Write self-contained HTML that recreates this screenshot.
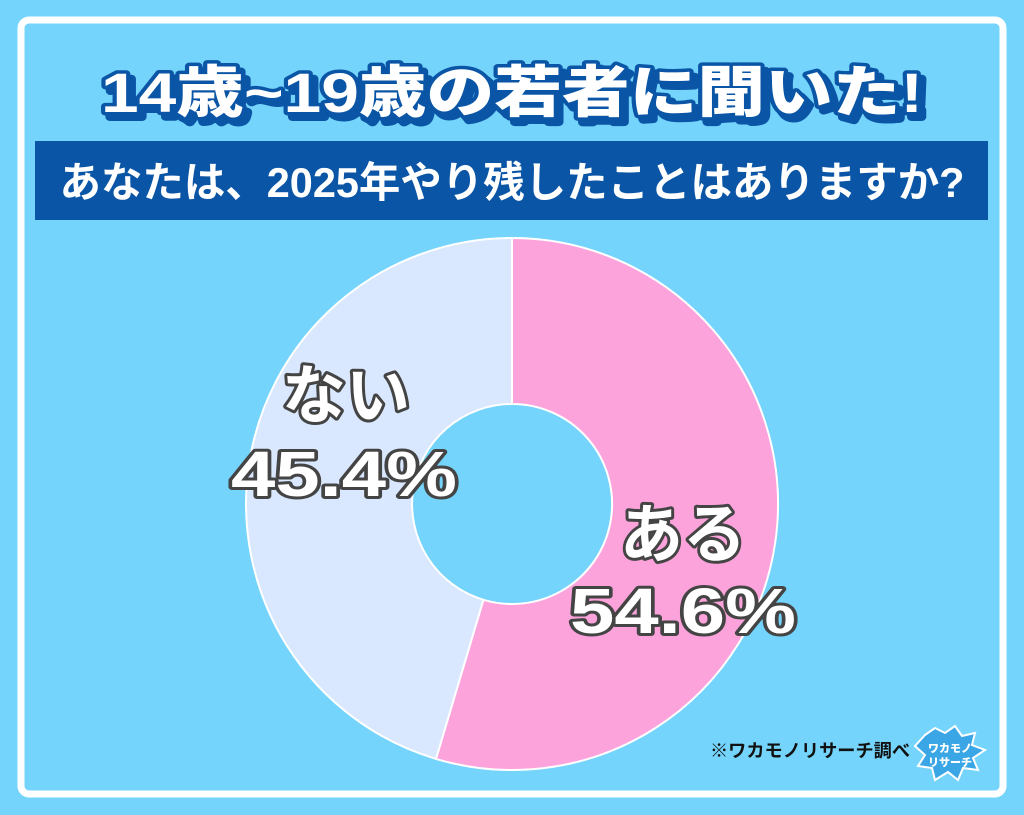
<!DOCTYPE html>
<html><head><meta charset="utf-8"><style>
body{margin:0;width:1024px;height:815px;background:#74d4fb;overflow:hidden}
svg{display:block}
</style></head><body>
<svg width="1024" height="815" viewBox="0 0 1024 815" xmlns="http://www.w3.org/2000/svg">
<rect x="0" y="0" width="1024" height="815" fill="#74d4fb"/>
<rect x="21" y="20" width="982" height="774" rx="8" fill="#74d4fb" stroke="#fff" stroke-width="7"/>
<g font-family="'Liberation Sans','Noto Sans CJK JP',sans-serif" font-weight="900" font-size="56" text-anchor="middle">
<text x="517" y="117" textLength="822" lengthAdjust="spacingAndGlyphs" fill="#0a55a5" stroke="#0a55a5" stroke-width="8" stroke-linejoin="round">14歳~19歳の若者に聞いた!</text>
<text x="512" y="112" textLength="822" lengthAdjust="spacingAndGlyphs" fill="#fff" stroke="#0a55a5" stroke-width="7" stroke-linejoin="round" paint-order="stroke">14歳~19歳の若者に聞いた!</text>
</g>
<rect x="35" y="141" width="953" height="79" fill="#0a55a5"/>
<text x="512" y="197" textLength="905" lengthAdjust="spacingAndGlyphs" fill="#fff" font-family="'Liberation Sans','Noto Sans CJK JP',sans-serif" font-weight="700" font-size="42" text-anchor="middle">あなたは、2025年やり残したことはありますか?</text>
<path d="M512 238 A266 266 0 1 1 436 758.9 L483.4 599.8 A100 100 0 1 0 512 404 Z" fill="#fda3dc" stroke="#fff" stroke-width="2"/>
<path d="M436 758.9 A266 266 0 0 1 512 238 L512 404 A100 100 0 0 0 483.4 599.8 Z" fill="#d9e8fe" stroke="#fff" stroke-width="2"/>
<g font-family="'Liberation Sans','Noto Sans CJK JP',sans-serif" font-weight="700" font-size="64" fill="#fff" stroke="#444" stroke-width="6" stroke-linejoin="round" paint-order="stroke" text-anchor="middle">
<text x="346" y="418" textLength="128" lengthAdjust="spacingAndGlyphs">ない</text>
<text x="344" y="496" textLength="226" lengthAdjust="spacingAndGlyphs">45.4%</text>
<text x="683" y="557" textLength="126" lengthAdjust="spacingAndGlyphs">ある</text>
<text x="683" y="633" textLength="226" lengthAdjust="spacingAndGlyphs">54.6%</text>
</g>
<text x="910" y="757" textLength="200" lengthAdjust="spacingAndGlyphs" fill="#111" font-family="'Liberation Sans','Noto Sans CJK JP',sans-serif" font-weight="700" font-size="18" text-anchor="end">※ワカモノリサーチ調べ</text>
<g>
<path d="M925 735 L935 728 L945 733 L955 726 L962 736 L975 733 L972 745 L985 750 L973 758 L978 770 L963 768 L958 780 L948 772 L935 780 L932 768 L918 766 L925 755 L915 746 Z" fill="#3aa6e6" stroke="#fff" stroke-width="2"/>
<text x="950" y="752" fill="#fff" font-family="'Liberation Sans','Noto Sans CJK JP',sans-serif" font-weight="900" font-size="11" text-anchor="middle">ワカモノ</text>
<text x="950" y="766" fill="#fff" font-family="'Liberation Sans','Noto Sans CJK JP',sans-serif" font-weight="900" font-size="11" text-anchor="middle">リサーチ</text>
</g>
</svg>
</body></html>
